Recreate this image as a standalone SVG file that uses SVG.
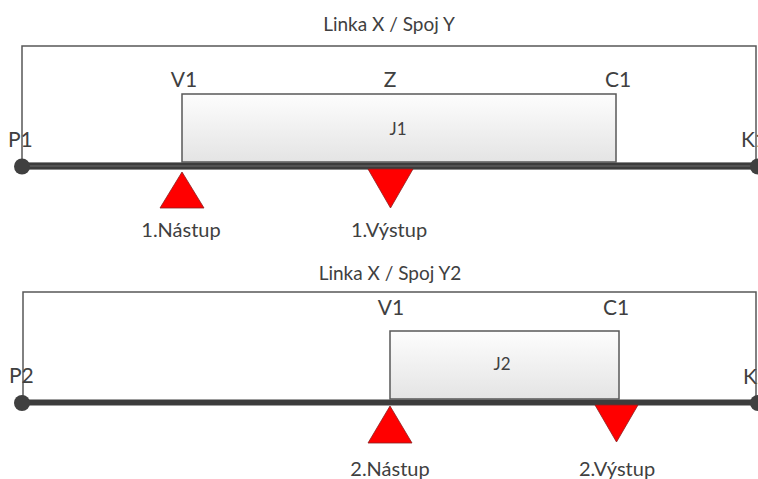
<svg xmlns="http://www.w3.org/2000/svg" width="758" height="479" viewBox="0 0 758 479">
<defs>
<linearGradient id="boxg" x1="0" y1="0" x2="0" y2="1">
<stop offset="0" stop-color="#fdfdfd"/>
<stop offset="1" stop-color="#e4e4e4"/>
</linearGradient>
<style>
.frame{fill:none;stroke:#585858;stroke-width:1.5}
.box{fill:url(#boxg);stroke:#585858;stroke-width:1.5}
.t{font-family:Lato,"Open Sans",sans-serif;fill:#404040}
.big{font-size:21px}
.mid{font-size:19px}
.lab{font-size:20px}
.sm{font-size:17px}
.tri{fill:#ff0000;stroke:#8a2020;stroke-width:0.8}
.dot{fill:#404040}
.l1o{stroke:#8a8a8a;stroke-width:8}
.l1i{stroke:#3c3c3c;stroke-width:6}
.l1c{stroke:#6a6a6a;stroke-width:1.2}
.l2{stroke:#3c3c3c;stroke-width:6}
</style>
</defs>
<rect width="758" height="479" fill="#ffffff"/>

<g id="section1">
<text class="t mid" x="389" y="31" text-anchor="middle">Linka X / Spoj Y</text>
<path class="frame" d="M22,166 V46 H756 V166"/>
</g>

<g id="connectors">
<line class="l1o" x1="22" y1="166" x2="758" y2="166"/>
<line class="l1i" x1="22" y1="166" x2="758" y2="166"/>
<line class="l1c" x1="22" y1="166" x2="758" y2="166"/>
<line class="l2" x1="22" y1="402.5" x2="758" y2="402.5"/>
</g>

<g id="J1">
<rect class="box" x="182" y="94" width="434" height="68"/>
<text class="t sm" x="398" y="135" text-anchor="middle">J1</text>
</g>
<g id="V1a"><text class="t big" x="184" y="87" text-anchor="middle">V1</text></g>
<g id="Z"><text class="t big" x="390" y="87" text-anchor="middle">Z</text></g>
<g id="C1a"><text class="t big" x="618" y="87" text-anchor="middle">C1</text></g>
<g id="P1">
<text class="t big" x="8" y="147">P1</text>
<circle class="dot" cx="22" cy="166.5" r="8"/>
</g>
<g id="K1">
<text class="t big" x="741" y="147">K1</text>
<circle class="dot" cx="758" cy="166.5" r="8"/>
</g>
<g id="nastup1">
<polygon class="tri" points="182,172 160,208 204,208"/>
<text class="t lab" x="181" y="237" text-anchor="middle">1.Nástup</text>
</g>
<g id="vystup1">
<polygon class="tri" points="368,169 413,169 390.5,208"/>
<text class="t lab" x="389" y="237" text-anchor="middle">1.Výstup</text>
</g>

<g id="section2">
<text class="t mid" x="390" y="280" text-anchor="middle">Linka X / Spoj Y2</text>
<path class="frame" d="M23,402 V292 H756 V402"/>
</g>
<g id="J2">
<rect class="box" x="390" y="331" width="229" height="68"/>
<text class="t sm" x="502" y="370" text-anchor="middle">J2</text>
</g>
<g id="V1b"><text class="t big" x="391" y="315" text-anchor="middle">V1</text></g>
<g id="C1b"><text class="t big" x="616" y="315" text-anchor="middle">C1</text></g>
<g id="P2">
<text class="t big" x="9" y="383">P2</text>
<circle class="dot" cx="22" cy="403" r="8"/>
</g>
<g id="K2">
<text class="t big" x="743" y="384">K2</text>
<circle class="dot" cx="758" cy="403" r="8"/>
</g>
<g id="nastup2">
<polygon class="tri" points="390,406 368,443 412,443"/>
<text class="t lab" x="390" y="476" text-anchor="middle">2.Nástup</text>
</g>
<g id="vystup2">
<polygon class="tri" points="595,405 638,405 616.5,442"/>
<text class="t lab" x="617" y="476" text-anchor="middle">2.Výstup</text>
</g>
</svg>
